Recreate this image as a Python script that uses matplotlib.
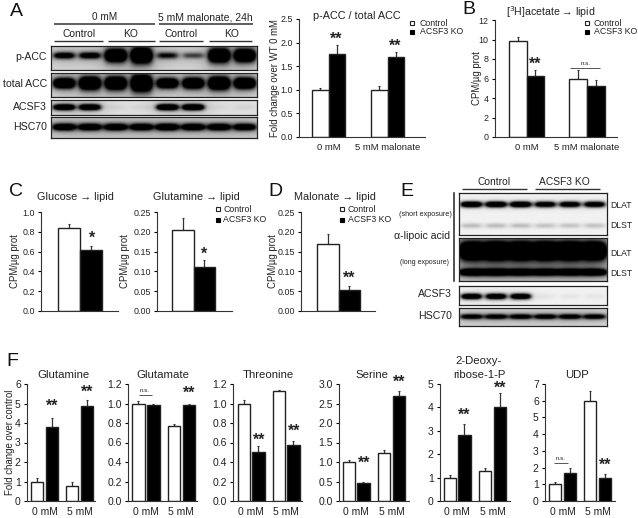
import numpy as np
import matplotlib
matplotlib.use('Agg')
import matplotlib.pyplot as plt

plt.rcParams['font.family'] = ['Liberation Sans', 'DejaVu Sans']

W, H = 638, 518

# Valeurs des barres : [0 mM control, 0 mM KO, 5 mM control, 5 mM KO]
acc_ratio = [1.0, 1.76, 1.0, 1.7]
acc_ratio_err = [0.04, 0.18, 0.09, 0.1]
acetate = [9.85, 6.3, 6.0, 5.2]
acetate_err = [0.4, 0.6, 0.85, 0.65]
glucose = [0.84, 0.615]
glucose_err = [0.04, 0.045]
glutamine_lipid = [0.205, 0.11]
glutamine_lipid_err = [0.03, 0.018]
malonate = [0.17, 0.053]
malonate_err = [0.024, 0.009]
glutamine = [1.0, 3.8, 0.75, 4.85]
glutamine_err = [0.2, 0.45, 0.2, 0.35]
glutamate = [1.0, 0.985, 0.765, 0.985]
glutamate_err = [0.03, 0.015, 0.02, 0.015]
threonine = [1.0, 0.5, 1.125, 0.57]
threonine_err = [0.035, 0.06, 0.015, 0.05]
serine = [1.0, 0.46, 1.24, 2.7]
serine_err = [0.04, 0.02, 0.06, 0.13]
deoxyribose = [1.0, 2.8, 1.3, 4.0]
deoxyribose_err = [0.1, 0.5, 0.1, 0.6]
udp = [1.0, 1.67, 6.0, 1.35]
udp_err = [0.15, 0.33, 0.6, 0.27]

# Intensite des bandes par puits (western blots)
pacc_bands = [0.75, 0.75, 1.0, 1.0, 0.6, 0.45, 1.0, 1.0]
pacc_thick = [0.13, 0.13, 0.26, 0.32, 0.13, 0.12, 0.28, 0.26]
tacc_bands = [1.0, 1.0, 1.0, 1.0, 0.95, 0.95, 1.0, 1.0]
tacc_thick = [0.2, 0.26, 0.26, 0.34, 0.2, 0.22, 0.26, 0.22]
acsf3_a_bands = [0.9, 0.9, 0.04, 0.04, 0.95, 0.95, 0.03, 0.05]
hsc70_a_bands = [0.85, 0.82, 0.82, 0.82, 0.85, 0.82, 0.82, 0.8]
dlat_short = [0.95, 0.95, 0.95, 0.85, 0.85, 0.85]
dlst_short = [0.2, 0.2, 0.2, 0.18, 0.18, 0.18]
dlat_long = [1.0, 1.0, 1.0, 1.0, 1.0, 1.0]
dlst_long = [0.88, 0.85, 0.82, 0.8, 0.8, 0.85]
acsf3_e_bands = [0.9, 0.9, 0.9, 0.05, 0.05, 0.05]
hsc70_e_bands = [0.75, 0.75, 0.75, 0.75, 0.75, 0.75]

fig = plt.figure(figsize=(W / 100, H / 100), dpi=100)


def px_rect(x0, y0, x1, y1):
    return [x0 / W, 1 - y1 / H, (x1 - x0) / W, (y1 - y0) / H]


def bar_panel(box, starts, width, values, errs, ylim, yticks, yfmt, xlabels=None,
              ylabel=None, ylabel_x=None, ticksize=6.4, xsize=6.8, labelsize=6.9, lw=1.0):
    """box = (gauche, haut, droite, bas) en pixels, axe x en pixels."""
    ax = fig.add_axes(px_rect(*box))
    ax.set_xlim(box[0], box[2])
    ax.set_ylim(*ylim)
    ax.patch.set_alpha(0)
    for i, v in enumerate(values):
        col = 'white' if i % 2 == 0 else 'black'
        ax.bar(starts[i] + width / 2, v, width=width, color=col, edgecolor='#222222', linewidth=lw, zorder=2)
        ax.errorbar(starts[i] + width / 2, v, yerr=[[0], [errs[i]]], color='#333333',
                    capsize=0.8, elinewidth=0.9, capthick=0.8, zorder=1)
    ax.spines['top'].set_visible(False)
    ax.spines['right'].set_visible(False)
    ax.spines['left'].set_color('#333333')
    ax.spines['bottom'].set_color('#333333')
    ax.set_yticks(yticks)
    ax.set_yticklabels([yfmt % t for t in yticks], fontsize=ticksize, color='#222222')
    ax.tick_params(axis='y', length=2.5, width=0.8, pad=2)
    if xlabels:
        n = len(values) // len(xlabels)
        pos = [starts[i * n] + (starts[i * n + n - 1] + width - starts[i * n]) / 2 for i in range(len(xlabels))]
        ax.set_xticks(pos)
        ax.set_xticklabels(xlabels, fontsize=xsize, color='#222222')
        ax.tick_params(axis='x', length=0, pad=4)
    else:
        ax.set_xticks([])
    if ylabel:
        ax.set_ylabel(ylabel, fontsize=labelsize, color='#222222')
        # le label est ancre par son bord droit, d'ou les 5 px
        ax.yaxis.set_label_coords((ylabel_x + 5 - box[0]) / (box[2] - box[0]), 0.5)
    return ax


def blot(box, bands, n_lanes, lane_w=0.42, background=0.85, halo_level=0.2):
    """bands : liste de (position verticale, epaisseur, intensites)."""
    ax = fig.add_axes(px_rect(*box))
    w = (box[2] - box[0]) * 3
    h = (box[3] - box[1]) * 3
    xx, yy = np.meshgrid(np.linspace(0, n_lanes, w), np.linspace(0, 1, h))
    img = np.full((h, w), background, dtype=float)
    for ypos, thick, levels in bands:
        for i, lev in enumerate(levels):
            t = thick[i] if np.ndim(thick) else thick
            fx = np.exp(-((xx - (i + 0.5)) / lane_w) ** 4)
            fy = np.exp(-((yy - ypos) / t) ** 2)
            halo = np.exp(-((xx - (i + 0.5)) / (lane_w * 1.5)) ** 2 - ((yy - ypos) / (t * 2.4)) ** 2)
            img = img - 1.8 * lev * fx * fy * background * (0.5 + 0.5 * lev) - halo_level * lev * halo
    ax.imshow(np.clip(img, 0, 1), cmap='gray', vmin=0, vmax=1, aspect='auto', interpolation='bilinear')
    ax.set_xticks([])
    ax.set_yticks([])
    for s in ax.spines.values():
        s.set_linewidth(0.9)
        s.set_color('#222222')
    return ax


# Panel A : blots
blot((51, 46, 257, 70), [(0.42, pacc_thick, pacc_bands)], 8, background=0.82)
blot((51, 73, 257, 97), [(0.45, tacc_thick, tacc_bands)], 8, background=0.84)
blot((51, 100, 257, 115), [(0.48, 0.2, acsf3_a_bands)], 8, background=0.88)
blot((51, 117, 257, 138), [(0.48, 0.17, hsc70_a_bands)], 8, lane_w=0.46, background=0.8)

# Panel E : blots
blot((459, 193, 607, 235), [(0.27, 0.07, dlat_short), (0.78, 0.06, dlst_short)], 6, lane_w=0.44,
     background=0.95, halo_level=0.04)
blot((459, 238, 607, 281), [(0.3, 0.22, dlat_long), (0.8, 0.08, dlst_long)], 6, lane_w=0.52, background=0.82)
blot((459, 286, 607, 305), [(0.55, 0.15, acsf3_e_bands)], 6, lane_w=0.42, background=0.95, halo_level=0.1)
blot((459, 308, 607, 326), [(0.48, 0.14, hsc70_e_bands)], 6, lane_w=0.46, background=0.82)

# Panels A et B : barres
bar_panel((299, 19, 425, 137), [312, 328.5, 371, 387.5], 16.5, acc_ratio, acc_ratio_err, (0, 2.5),
          [0, 0.5, 1.0, 1.5, 2.0, 2.5], '%.1f', ['0 mM', '5 mM malonate'], 'Fold change over WT 0 mM', 275)
bar_panel((495, 20, 617, 137), [509, 526.5, 569, 587], 17.5, acetate, acetate_err, (0, 12),
          [0, 2, 4, 6, 8, 10, 12], '%d', ['0 mM', '5 mM malonate'], 'CPM/µg prot', 477)

# Panels C et D
bar_panel((41, 212, 118, 311), [58, 80], 22, glucose, glucose_err, (0, 1.0),
          [0, 0.2, 0.4, 0.6, 0.8, 1.0], '%.1f', None, 'CPM/µg prot', 15)
bar_panel((157, 212, 232, 311), [172, 193.5], 21.5, glutamine_lipid, glutamine_lipid_err, (0, 0.25),
          [0, 0.05, 0.10, 0.15, 0.20, 0.25], '%.2f', None, 'CPM/µg prot', 125)
bar_panel((301, 212, 375, 311), [317, 338.5], 21.5, malonate, malonate_err, (0, 0.25),
          [0, 0.05, 0.10, 0.15, 0.20, 0.25], '%.2f', None, 'CPM/µg prot', 273)

# Panel F
mm = ['0 mM', '5 mM']
f_size = dict(ticksize=7.5, xsize=7.4, labelsize=6.9)
bar_panel((27, 384, 95, 501), [31, 46, 66, 81], 12.3, glutamine, glutamine_err, (0, 6),
          [0, 1, 2, 3, 4, 5, 6], '%d', mm, 'Fold change over control', 10, **f_size)
bar_panel((128, 384, 197, 501), [132.3, 147.3, 167.7, 182.7], 12.3, glutamate, glutamate_err, (0, 1.2),
          [0, 0.2, 0.4, 0.6, 0.8, 1.0, 1.2], '%.1f', mm, **f_size)
bar_panel((233, 384, 302, 501), [237.7, 252.3, 272.7, 287.3], 12.3, threonine, threonine_err, (0, 1.2),
          [0, 0.2, 0.4, 0.6, 0.8, 1.0, 1.2], '%.1f', mm, **f_size)
bar_panel((339, 384, 409, 501), [343, 357.3, 378, 392.7], 12.3, serine, serine_err, (0, 3.0),
          [0, 0.5, 1.0, 1.5, 2.0, 2.5, 3.0], '%.1f', mm, **f_size)
bar_panel((440, 384, 510, 501), [444, 458.3, 479, 493.7], 12.3, deoxyribose, deoxyribose_err, (0, 5),
          [0, 1, 2, 3, 4, 5], '%d', mm, **f_size)
bar_panel((545, 384, 615, 501), [549, 563.7, 584, 598.7], 12.3, udp, udp_err, (0, 7),
          [0, 1, 2, 3, 4, 5, 6, 7], '%d', mm, **f_size)

# Couche d'annotations, en pixels
ov = fig.add_axes([0, 0, 1, 1])
ov.set_xlim(0, W)
ov.set_ylim(H, 0)
ov.axis('off')
ov.patch.set_alpha(0)


def label(x, y, s, size=7.0, ha='center', **kw):
    ov.text(x, y, s, fontsize=size, ha=ha, va='center', color=kw.pop('color', '#222222'), **kw)


def stars(x, y, s='**'):
    ov.text(x, y, s, fontsize=11.5, fontweight='bold', ha='center', va='center', color='#222222')


def rule(x0, x1, y, lw=1.0, color='#333333'):
    ov.plot([x0, x1], [y, y], color=color, lw=lw, solid_capstyle='butt')


def legend(x, y1, y2, offset, box_w=5):
    ov.plot([x], [y1], marker='s', ms=box_w * 0.72, mfc='white', mec='#222222', mew=0.8)
    ov.plot([x], [y2], marker='s', ms=box_w * 0.72, mfc='black', mec='black', mew=0.8)
    label(x + offset, y1, 'Control', size=6.3, ha='left')
    label(x + offset, y2, 'ACSF3 KO', size=6.3, ha='left')


# Lettres
for x, y, s in [(16, 11, 'A'), (469, 9, 'B'), (16, 191, 'C'), (275, 191, 'D'), (407, 191, 'E'), (12, 361, 'F')]:
    label(x, y, s, size=14, color='#111111')

# Panel A : annotations
label(105, 17, '0 mM', size=7.2)
rule(54, 155, 23.5, lw=1.1)
label(205, 17, '5 mM malonate, 24h', size=7.5)
rule(159, 253, 23.5, lw=1.1)
for x, x0, x1, s in [(79, 54, 103, 'Control'), (131, 108, 155, 'KO'), (181, 159, 203, 'Control'), (232, 209, 252, 'KO')]:
    label(x, 34, s, size=7.4)
    rule(x0, x1, 41)
for y, s in [(57, 'p-ACC'), (84, 'total ACC'), (107, 'ACSF3'), (127, 'HSC70')]:
    label(47, y, s, size=7.6, ha='right')

label(357, 16, 'p-ACC / total ACC', size=7.8)
legend(412, 23, 32, 8)
stars(336, 39)
stars(395, 46)

# Panel B : annotations
label(551, 12, '[$^{3}$H]acetate → lipid', size=7.6)
legend(587, 23, 32, 7)
stars(535, 64)
label(586, 63.5, 'n.s.', size=4.5)
rule(570, 600, 67.5, lw=0.7, color='#555555')

# Panels C et D : annotations
label(75, 197, 'Glucose → lipid', size=7.8)
label(196, 197, 'Glutamine → lipid', size=7.8)
label(335, 197, 'Malonate → lipid', size=7.8)
legend(218, 209, 220, 5)
legend(342, 209, 220, 6)
stars(92, 238, '*')
stars(204, 254, '*')
stars(349, 278)

# Panel E : annotations
label(494, 182, 'Control', size=7.4)
rule(462, 527, 189)
label(564, 182, 'ACSF3 KO', size=7.4)
rule(535, 600, 189)
ov.plot([454, 454], [193, 281], color='#222222', lw=1.1)
for y, s in [(205, 'DLAT'), (226, 'DLST'), (254, 'DLAT'), (274, 'DLST')]:
    label(610, y, s, size=6.2, ha='left')
label(425, 214, '(short exposure)', size=5.2)
label(422, 236, 'α-lipoic acid', size=7.6)
label(425, 262, '(long exposure)', size=5.0)
label(435, 294, 'ACSF3', size=7.6)
label(435, 316, 'HSC70', size=7.6)

# Panel F : annotations
for x, y, s in [(64, 375, 'Glutamine'), (163, 375, 'Glutamate'), (268, 375, 'Threonine'), (372, 375, 'Serine'),
                (479, 361, '2-Deoxy-'), (479, 375, 'ribose-1-P'), (577, 375, 'UDP')]:
    label(x, y, s, size=8.2)
stars(52, 406)
stars(87, 392)
stars(189, 393)
stars(259, 440)
stars(294, 431)
stars(364, 463)
stars(399, 382)
stars(464, 415)
stars(500, 388)
stars(605, 465)
label(145, 390, 'n.s.', size=4.5)
rule(139, 152, 395, lw=0.7, color='#555555')
label(561, 458, 'n.s.', size=4.5)
rule(554, 568, 463, lw=0.7, color='#555555')

fig.savefig('out.png', dpi=100)
